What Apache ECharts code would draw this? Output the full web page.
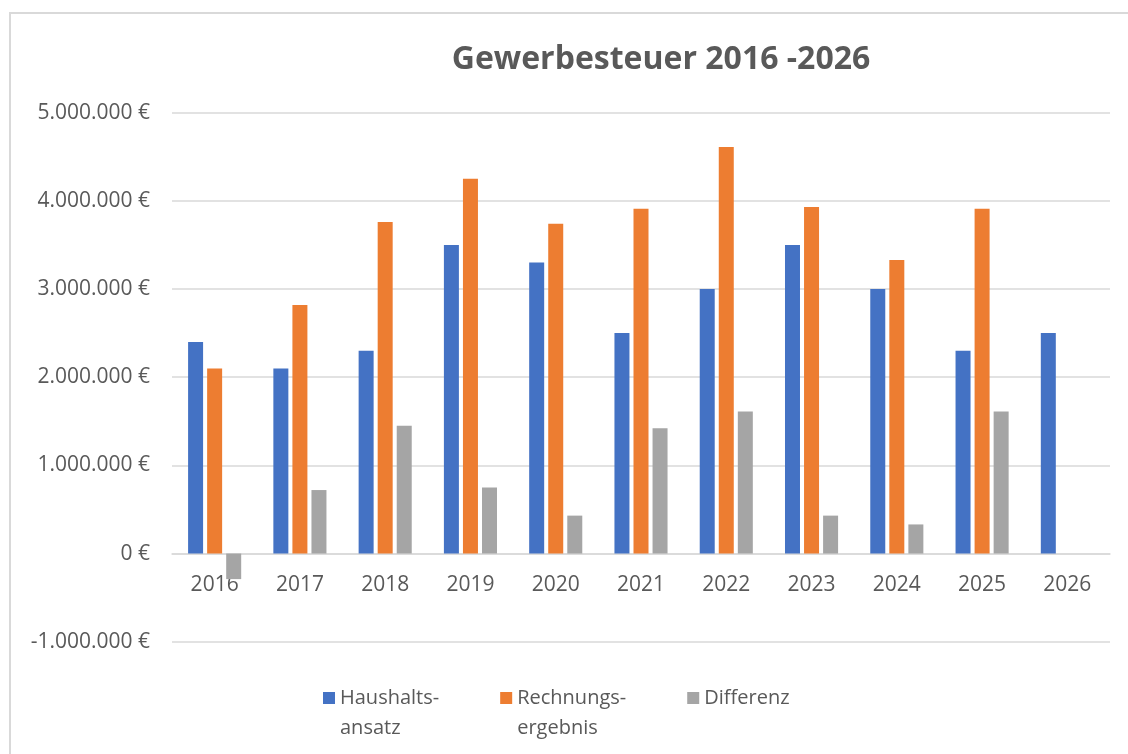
<!DOCTYPE html>
<html>
<head>
<meta charset="utf-8">
<script src="https://cdn.jsdelivr.net/npm/echarts@6/dist/echarts.min.js"></script>
<style>
  * { margin: 0; padding: 0; }
  html, body { width: 1128px; height: 754px; background: #fff; overflow: hidden; }
  #chart { width: 1128px; height: 754px; }
</style>
</head>
<body>
<div id="chart"></div>
<script>
const years = ["2016", "2017", "2018", "2019", "2020", "2021", "2022", "2023", "2024", "2025", "2026"];
const haushaltsansatz = [2400000, 2100000, 2300000, 3500000, 3300000, 2500000, 3000000, 3500000, 3000000, 2300000, 2500000];
const rechnungsergebnis = [2100000, 2820000, 3760000, 4250000, 3740000, 3910000, 4610000, 3930000, 3330000, 3910000, null];
const differenz = [-290000, 720000, 1450000, 750000, 430000, 1420000, 1610000, 430000, 330000, 1610000, null];
const seriesNames = ["Haushalts-\nansatz", "Rechnungs-\nergebnis", "Differenz"];
const colors = ["#4472C4", "#ED7D31", "#A5A5A5"];

const font = "'Open Sans', 'Noto Sans', sans-serif";
const textColor = "#595959";

// legend square sits next to the first text line (Excel style)
const iconTop = "path://M0 0 L12 0 L12 12 L0 12 Z M0 42 L12 42";

function euro (v) {
  const s = Math.abs(v).toString().replace(/\B(?=(\d{3})+(?!\d))/g, ".");
  return (v < 0 ? "-" : "") + s + " €";
}

const chart = echarts.init(document.getElementById("chart"));

function bar (i, data) {
  return {
    name: seriesNames[i],
    type: "bar",
    data: data,
    barWidth: 15,
    barGap: "27%",
    itemStyle: { color: colors[i], borderWidth: 0 }
  };
}

chart.setOption({
  animation: false,
  textStyle: { fontFamily: font },
  title: {
    text: "Gewerbesteuer 2016 -2026",
    left: 656,
    textAlign: "center",
    top: 39,
    textStyle: { fontFamily: font, fontSize: 32, fontWeight: "bold", color: textColor }
  },
  graphic: [{
    type: "rect",
    shape: { x: 10, y: 13, width: 1130, height: 760 },
    style: { fill: "none", stroke: "#D9D9D9", lineWidth: 2 },
    silent: true
  }],
  legend: {
    left: 318,
    top: 678,
    itemWidth: 12,
    itemHeight: 42,
    itemGap: 61,
    icon: iconTop,
    // single-line names get an empty second line so all first lines align
    formatter: name => name.indexOf("\n") < 0 ? name + "\n\u00a0" : name,
    textStyle: { fontFamily: font, fontSize: 20, color: textColor, lineHeight: 30 },
    data: seriesNames
  },
  grid: { left: 172, right: 18, top: 112.7, bottom: 112.3, containLabel: false },
  xAxis: {
    type: "category",
    data: years,
    offset: -88.17,
    axisLine: { onZero: false, lineStyle: { color: "#D9D9D9", width: 1.5 } },
    axisTick: { show: false },
    axisLabel: { fontFamily: font, fontSize: 21, color: textColor, margin: 21, interval: 0 }
  },
  yAxis: {
    type: "value",
    min: -1000000,
    max: 5000000,
    interval: 1000000,
    axisLine: { show: false },
    axisTick: { show: false },
    splitLine: { lineStyle: { color: "#D9D9D9", width: 1.5 } },
    axisLabel: { fontFamily: font, fontSize: 21, color: textColor, margin: 22, formatter: euro }
  },
  series: [
    bar(0, haushaltsansatz),
    bar(1, rechnungsergebnis),
    bar(2, differenz)
  ]
});
</script>
</body>
</html>
